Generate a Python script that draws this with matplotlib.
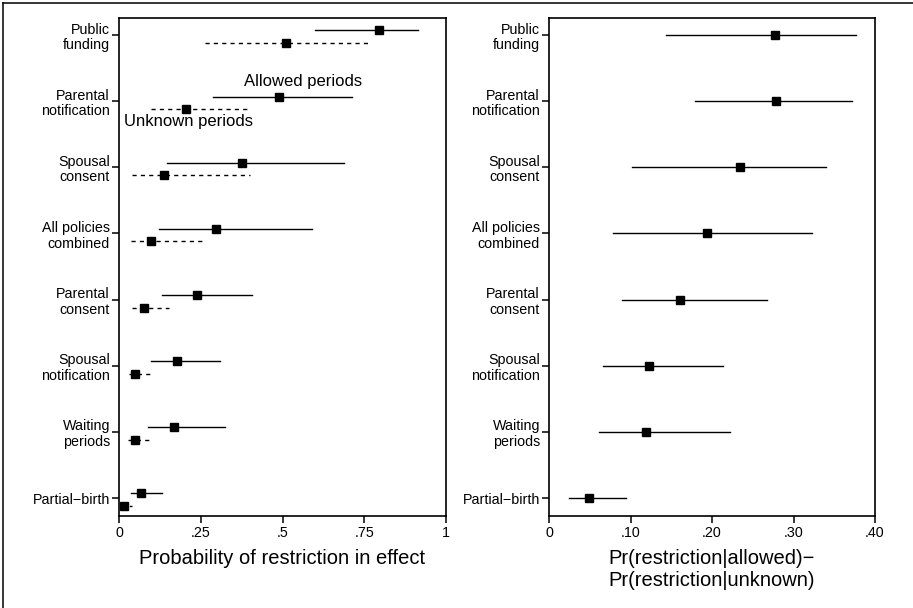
import numpy as np
import matplotlib.pyplot as plt
from matplotlib.lines import Line2D

plt.rcParams['font.family'] = ['Liberation Sans', 'DejaVu Sans']

policies = ["Partial\u2212birth", "Waiting\nperiods", "Spousal\nnotification", "Parental\nconsent",
            "All policies\ncombined", "Spousal\nconsent", "Parental\nnotification", "Public\nfunding"]

# left panel: probability of restriction in effect
allowed_est = [0.066, 0.169, 0.176, 0.238, 0.298, 0.375, 0.489, 0.795]
allowed_lo = [0.036, 0.088, 0.097, 0.131, 0.121, 0.147, 0.288, 0.600]
allowed_hi = [0.131, 0.323, 0.308, 0.408, 0.590, 0.688, 0.714, 0.915]

unknown_est = [0.016, 0.048, 0.050, 0.076, 0.097, 0.138, 0.204, 0.510]
unknown_lo = [0.007, 0.026, 0.031, 0.040, 0.036, 0.040, 0.099, 0.262]
unknown_hi = [0.040, 0.101, 0.101, 0.153, 0.265, 0.400, 0.393, 0.769]

# right panel: difference
diff_est = [0.049, 0.119, 0.123, 0.161, 0.194, 0.234, 0.279, 0.277]
diff_lo = [0.025, 0.061, 0.066, 0.089, 0.079, 0.102, 0.179, 0.143]
diff_hi = [0.094, 0.222, 0.213, 0.268, 0.323, 0.340, 0.372, 0.377]

left_ticks = [0, 0.25, 0.5, 0.75, 1]
left_ticklabels = ["0", ".25", ".5", ".75", "1"]
right_ticks = [0, 0.1, 0.2, 0.3, 0.4]
right_ticklabels = ["0", ".10", ".20", ".30", ".40"]

W, H = 913, 608
fig = plt.figure(figsize=(W / 100, H / 100), dpi=100)
ax1 = fig.add_axes([119 / W, 1 - 516 / H, 327 / W, 498.5 / H])
ax2 = fig.add_axes([549 / W, 1 - 516 / H, 326 / W, 498.5 / H])

y = np.arange(len(policies))


def style_axis(ax, ticks, ticklabels, xlim):
    ax.set_xlim(xlim)
    ax.set_ylim(-0.272, 7.265)
    ax.set_yticks(y)
    ax.set_yticklabels(policies, fontsize=10.3, linespacing=1.15)
    ax.set_xticks(ticks)
    ax.set_xticklabels(ticklabels, fontsize=10.3)
    ax.tick_params(axis='both', direction='out', length=5, width=1.1, pad=1.5, color='black')
    ax.tick_params(axis='x', pad=2.5)
    for s in ax.spines.values():
        s.set_linewidth(1.2)


# left panel
ya = y + 0.07
yu = y - 0.12
for i in range(len(policies)):
    ax1.plot([allowed_lo[i], allowed_hi[i]], [ya[i], ya[i]], color='black', lw=1)
    ax1.plot([unknown_lo[i], unknown_hi[i]], [yu[i], yu[i]], color='black', lw=1,
             dashes=(3, 3))
ax1.plot(allowed_est, ya, 's', color='black', ms=5.3, zorder=3)
ax1.plot(unknown_est, yu, 's', color='black', ms=5.3, zorder=3)
ax1.text(0.381, 6.29, "Allowed periods", fontsize=12, va='center', ha='left')
ax1.text(0.014, 5.69, "Unknown periods", fontsize=12, va='center', ha='left')
style_axis(ax1, left_ticks, left_ticklabels, (0, 1))
ax1.set_xlabel("Probability of restriction in effect", fontsize=14.5, labelpad=6)

# right panel
for i in range(len(policies)):
    ax2.plot([diff_lo[i], diff_hi[i]], [y[i], y[i]], color='black', lw=1)
ax2.plot(diff_est, y, 's', color='black', ms=5.3, zorder=3)
style_axis(ax2, right_ticks, right_ticklabels, (0, 0.4))
ax2.set_xlabel("Pr(restriction|allowed)\u2212\nPr(restriction|unknown)", fontsize=14.5,
               labelpad=6, linespacing=1.25)

# outer frame (top and left edges)
fig.add_artist(Line2D([3 / W, 1], [1 - 3 / H, 1 - 3 / H], color='black', lw=1.1))
fig.add_artist(Line2D([3 / W, 3 / W], [0, 1 - 3 / H], color='black', lw=1.1))

plt.savefig("out.png", dpi=100)
